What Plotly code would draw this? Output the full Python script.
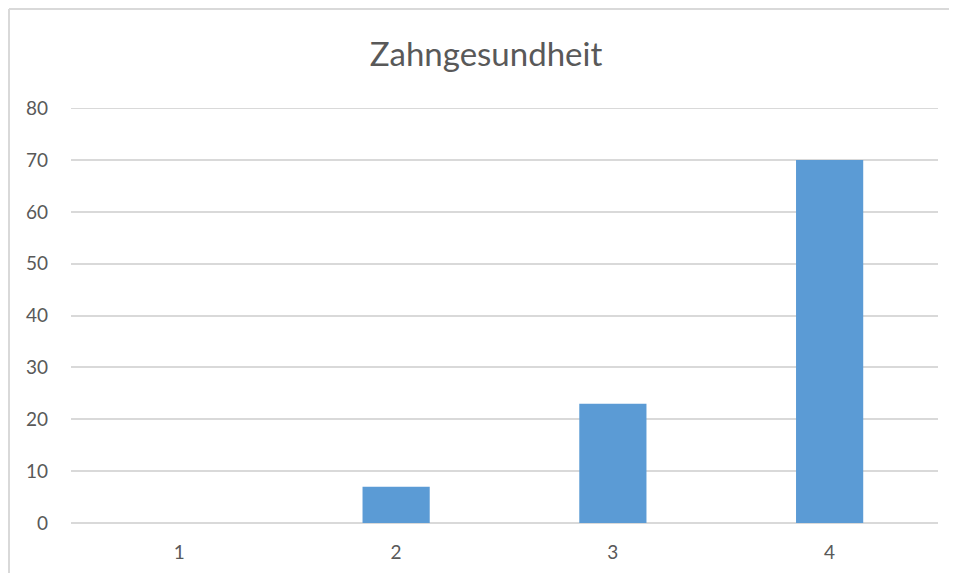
import plotly.graph_objects as go

categories = ["1", "2", "3", "4"]
values = [0, 7, 23, 70]
y_ticks = [0, 10, 20, 30, 40, 50, 60, 70, 80]
title_text = "Zahngesundheit"

# page body has an 8px margin on every side; keep the figure inside the window
OFF = 8
W, H = 957 - 2 * OFF, 581 - 2 * OFF
ml, mt = 71 - OFF, 108 - OFF
mr = W - (938 - OFF)
mb = H - (523 - OFF)
pw = W - ml - mr
ph = H - mt - mb

fig = go.Figure(go.Bar(
    x=categories, y=values,
    marker=dict(color="#5B9BD5", line=dict(width=0)),
    width=0.31,
))

fig.update_layout(
    width=W, height=H,
    margin=dict(l=ml, r=mr, t=mt, b=mb),
    paper_bgcolor="white", plot_bgcolor="white",
    font=dict(family="Lato, Open Sans, sans-serif", color="#595959", size=19),
    title=dict(text=title_text, x=(486 - OFF) / W, xanchor="center", xref="container",
               y=1 - (54 - OFF) / H, yanchor="middle", yref="container",
               font=dict(size=33, color="#595959", family="Lato, Open Sans, sans-serif")),
    showlegend=False,
    shapes=[
        dict(type="line", xref="paper", yref="paper",
             x0=(1 - ml) / pw, x1=(1 - ml) / pw, y0=-0.3, y1=1 + (mt - 1) / ph,
             line=dict(color="#D9D9D9", width=2)),
        dict(type="line", xref="paper", yref="paper",
             x0=(1 - ml) / pw, x1=1.3, y0=1 + (mt - 1) / ph, y1=1 + (mt - 1) / ph,
             line=dict(color="#D9D9D9", width=2)),
        dict(type="line", xref="paper", yref="y",
             x0=0, x1=1, y0=y_ticks[-1], y1=y_ticks[-1],
             line=dict(color="#D9D9D9", width=1.5), layer="below"),
    ],
)
fig.update_xaxes(showgrid=False, showline=False, zeroline=False, ticks="",
                 ticklabelstandoff=16, tickfont=dict(size=19, color="#595959"))
fig.update_yaxes(range=[0, 80.05], tickvals=y_ticks, showgrid=True, gridcolor="#D9D9D9",
                 gridwidth=1.5, zeroline=True, zerolinecolor="#D9D9D9", zerolinewidth=1.5,
                 showline=False, ticks="", ticklabelstandoff=22,
                 tickfont=dict(size=19, color="#595959"))

fig.write_html("out.html")
